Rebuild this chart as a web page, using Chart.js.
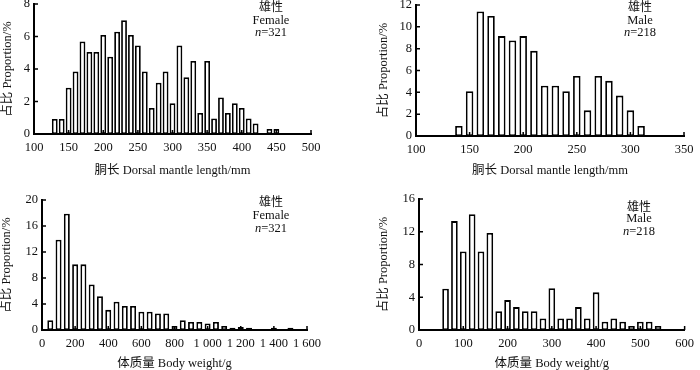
<!DOCTYPE html>
<html>
<head>
<meta charset="utf-8">
<title>Proportion histograms</title>
<script src="https://cdn.jsdelivr.net/npm/chart.js@4.4.1/dist/chart.umd.min.js"></script>
<style>
  html, body { margin: 0; padding: 0; background: #fff; }
  body { width: 700px; height: 370px; position: relative; overflow: hidden; }
  canvas { position: absolute; }
</style>
</head>
<body>
<canvas id="c-dml-f"></canvas>
<canvas id="c-dml-m"></canvas>
<canvas id="c-bw-f"></canvas>
<canvas id="c-bw-m"></canvas>
<script>
// bin centres (mm / g) and proportions (%)
const dmlFemaleBins = [130, 140, 150, 160, 170, 180, 190, 200, 210, 220, 230, 240, 250, 260, 270, 280, 290,
  300, 310, 320, 330, 340, 350, 360, 370, 380, 390, 400, 410, 420, 440, 450];
const dmlFemaleProp = [0.93, 0.93, 2.85, 3.85, 5.7, 5.05, 5.05, 6.1, 4.75, 6.3, 7.0, 6.1, 5.45, 3.85, 1.6, 3.15, 3.85,
  1.9, 5.45, 3.5, 4.5, 1.3, 4.5, 0.95, 2.25, 1.3, 1.9, 1.6, 0.95, 0.65, 0.31, 0.31];

const dmlMaleBins = [140, 150, 160, 170, 180, 190, 200, 210, 220, 230, 240, 250, 260, 270, 280, 290, 300, 310];
const dmlMaleProp = [0.92, 4.1, 11.4, 11.0, 9.15, 8.75, 9.15, 7.8, 4.6, 4.6, 4.1, 5.5, 2.35, 5.5, 5.05, 3.7, 2.35, 0.92];

const bwFemaleBins = [50, 100, 150, 200, 250, 300, 350, 400, 450, 500, 550, 600, 650, 700, 750, 800, 850,
  900, 950, 1000, 1050, 1100, 1150, 1200, 1250, 1400, 1500];
const bwFemaleProp = [1.5, 13.9, 17.9, 10.1, 10.1, 7.0, 5.2, 3.1, 4.35, 3.7, 3.7, 2.8, 2.8, 2.55, 2.55, 0.62, 1.5,
  1.25, 1.25, 1.0, 1.25, 0.62, 0.35, 0.45, 0.35, 0.35, 0.35];

const bwMaleBins = [60, 80, 100, 120, 140, 160, 180, 200, 220, 240, 260, 280, 300, 320, 340, 360, 380, 400,
  420, 440, 460, 480, 500, 520, 540];
const bwMaleProp = [5.05, 13.3, 9.6, 14.15, 9.6, 11.85, 2.3, 3.65, 2.8, 2.3, 2.3, 1.4, 5.1, 1.4, 1.4, 2.8, 1.4, 4.6,
  1.0, 1.4, 1.0, 0.5, 1.0, 1.0, 0.5];

// tick labels
const dmlFemaleTicks = ['100', '150', '200', '250', '300', '350', '400', '450', '500'];
const dmlMaleTicks = ['100', '150', '200', '250', '300', '350'];
const bwFemaleTicks = ['0', '200', '400', '600', '800', '1 000', '1 200', '1 400', '1 600'];
const bwMaleTicks = ['0', '100', '200', '300', '400', '500', '600'];
const yTicks8 = ['0', '2', '4', '6', '8'];
const yTicks12 = ['0', '2', '4', '6', '8', '10', '12'];
const yTicks20 = ['0', '4', '8', '12', '16', '20'];
const yTicks16 = ['0', '4', '8', '12', '16'];

const sexLabel = '雄性';
const yTitle = '占比 Proportion/%';
const dmlTitle = '胴长 Dorsal mantle length/mm';
const bwTitle = '体质量 Body weight/g';

const SERIF = "'Liberation Serif', 'Times New Roman', 'Noto Sans CJK SC', serif";
const INK = '#111';

// draws the short tick marks pointing into the plot, on top of the bars
const inwardTicks = {
  id: 'inwardTicks',
  afterDatasetsDraw(chart) {
    const { ctx, chartArea, scales: { x, y } } = chart;
    ctx.save();
    ctx.strokeStyle = '#000';
    ctx.lineWidth = 1.5;
    ctx.beginPath();
    x.ticks.forEach((t, i) => {
      if (i === 0) return;
      const px = x.getPixelForTick(i);
      ctx.moveTo(px, chartArea.bottom);
      ctx.lineTo(px, chartArea.bottom - 4);
    });
    y.ticks.forEach((t, i) => {
      if (i === 0) return;
      const py = y.getPixelForTick(i);
      ctx.moveTo(chartArea.left, py);
      ctx.lineTo(chartArea.left + 4, py);
    });
    ctx.stroke();
    ctx.restore();
  }
};

// "雄性 / Female / n=321" block
const sexNote = {
  id: 'sexNote',
  afterDraw(chart, args, opts) {
    if (!opts || !opts.lines) return;
    const { ctx } = chart;
    const [cx, y0, y1, y2] = opts.at;
    ctx.save();
    ctx.fillStyle = INK;
    ctx.textBaseline = 'middle';
    ctx.textAlign = 'center';
    ctx.font = "12px 'Noto Sans CJK SC', sans-serif";
    ctx.fillText(opts.lines[0], cx, y0);
    ctx.font = '12.5px ' + SERIF;
    ctx.fillText(opts.lines[1], cx, y1);
    // italic n, upright rest
    const rest = '=' + opts.lines[2];
    ctx.font = 'italic 12.5px ' + SERIF;
    const wn = ctx.measureText('n').width;
    ctx.font = '12.5px ' + SERIF;
    const wr = ctx.measureText(rest).width;
    const start = cx - (wn + wr) / 2;
    ctx.textAlign = 'left';
    ctx.font = 'italic 12.5px ' + SERIF;
    ctx.fillText('n', start, y2);
    ctx.font = '12.5px ' + SERIF;
    ctx.fillText(rest, start + wn, y2);
    ctx.restore();
  }
};

function drawPanel(p) {
  const el = document.getElementById(p.id);
  const [cx, cy, cw, ch] = p.box;
  el.width = cw;
  el.height = ch;
  el.style.left = cx + 'px';
  el.style.top = cy + 'px';

  const yWidth = p.area.left - cx;
  const xHeight = cy + ch - p.area.bottom;

  return new Chart(el, {
    type: 'bar',
    data: {
      datasets: [{
        data: p.bins.map((b, i) => ({ x: b, y: p.values[i] })),
        backgroundColor: '#fff',
        borderColor: '#000',
        borderWidth: 1.8,
        borderSkipped: false,
        barPercentage: p.barPct,
        categoryPercentage: 1
      }]
    },
    options: {
      responsive: false,
      animation: false,
      events: [],
      layout: {
        padding: { left: 0, bottom: 0, top: p.area.top - cy, right: cx + cw - p.area.right }
      },
      plugins: {
        legend: { display: false },
        tooltip: { enabled: false },
        sexNote: { lines: [sexLabel, p.sex, String(p.n)], at: [p.note[0] - cx, p.note[1] - cy, p.note[2] - cy, p.note[3] - cy] }
      },
      scales: {
        x: {
          type: 'linear',
          offset: false,
          min: p.xMin,
          max: p.xMax,
          afterFit: s => { s.height = xHeight; },
          grid: { display: false, drawTicks: false, offset: false },
          border: { display: true, color: '#000', width: 2 },
          ticks: {
            stepSize: p.xStep,
            autoSkip: false,
            maxRotation: 0,
            padding: 6,
            color: INK,
            font: { family: SERIF, size: 12.5 },
            callback: (v, i) => p.xLabels[i]
          },
          title: {
            display: true,
            text: p.xTitle,
            color: INK,
            padding: 0,
            font: { family: SERIF, size: 12.5 }
          }
        },
        y: {
          min: 0,
          max: p.yMax,
          afterFit: s => { s.width = yWidth; },
          grid: { display: false, drawTicks: false },
          border: { display: true, color: '#000', width: 2 },
          ticks: {
            stepSize: p.yStep,
            padding: 4,
            color: INK,
            font: { family: SERIF, size: 12.5 },
            callback: (v, i) => p.yLabels[i]
          },
          title: {
            display: true,
            text: yTitle,
            color: INK,
            padding: { top: p.yTitlePad, bottom: 0 },
            font: { family: SERIF, size: 12.5 }
          }
        }
      }
    },
    plugins: [inwardTicks, sexNote]
  });
}

const panels = [
  {
    id: 'c-dml-f', box: [0, -10, 350, 188], area: { left: 34, top: 4, right: 311, bottom: 134 },
    bins: dmlFemaleBins, values: dmlFemaleProp, xMin: 100, xMax: 500, xStep: 50, xLabels: dmlFemaleTicks,
    yMax: 8, yStep: 2, yLabels: yTicks8, xTitle: dmlTitle, yTitlePad: 0,
    sex: 'Female', n: 321, note: [271, 6, 21, 33], barPct: 0.84
  },
  {
    id: 'c-dml-m', box: [375, -10, 325, 188], area: { left: 416, top: 5, right: 684, bottom: 136 },
    bins: dmlMaleBins, values: dmlMaleProp, xMin: 100, xMax: 350, xStep: 50, xLabels: dmlMaleTicks,
    yMax: 12, yStep: 2, yLabels: yTicks12, xTitle: dmlTitle, yTitlePad: 1,
    sex: 'Male', n: 218, note: [640, 6, 21, 33], barPct: 0.7
  },
  {
    id: 'c-bw-f', box: [-2, 185, 352, 186], area: { left: 42, top: 200, right: 307, bottom: 330 },
    bins: bwFemaleBins, values: bwFemaleProp, xMin: 0, xMax: 1600, xStep: 200, xLabels: bwFemaleTicks,
    yMax: 20, yStep: 4, yLabels: yTicks20, xTitle: bwTitle, yTitlePad: 1,
    sex: 'Female', n: 321, note: [271, 201, 216, 229], barPct: 0.72
  },
  {
    id: 'c-bw-m', box: [375, 185, 325, 186], area: { left: 419, top: 199, right: 685, bottom: 330 },
    bins: bwMaleBins, values: bwMaleProp, xMin: 0, xMax: 600, xStep: 100, xLabels: bwMaleTicks,
    yMax: 16, yStep: 4, yLabels: yTicks16, xTitle: bwTitle, yTitlePad: 1,
    sex: 'Male', n: 218, note: [639, 206, 219, 232], barPct: 0.75
  }
];

panels.forEach(drawPanel);
</script>
</body>
</html>
